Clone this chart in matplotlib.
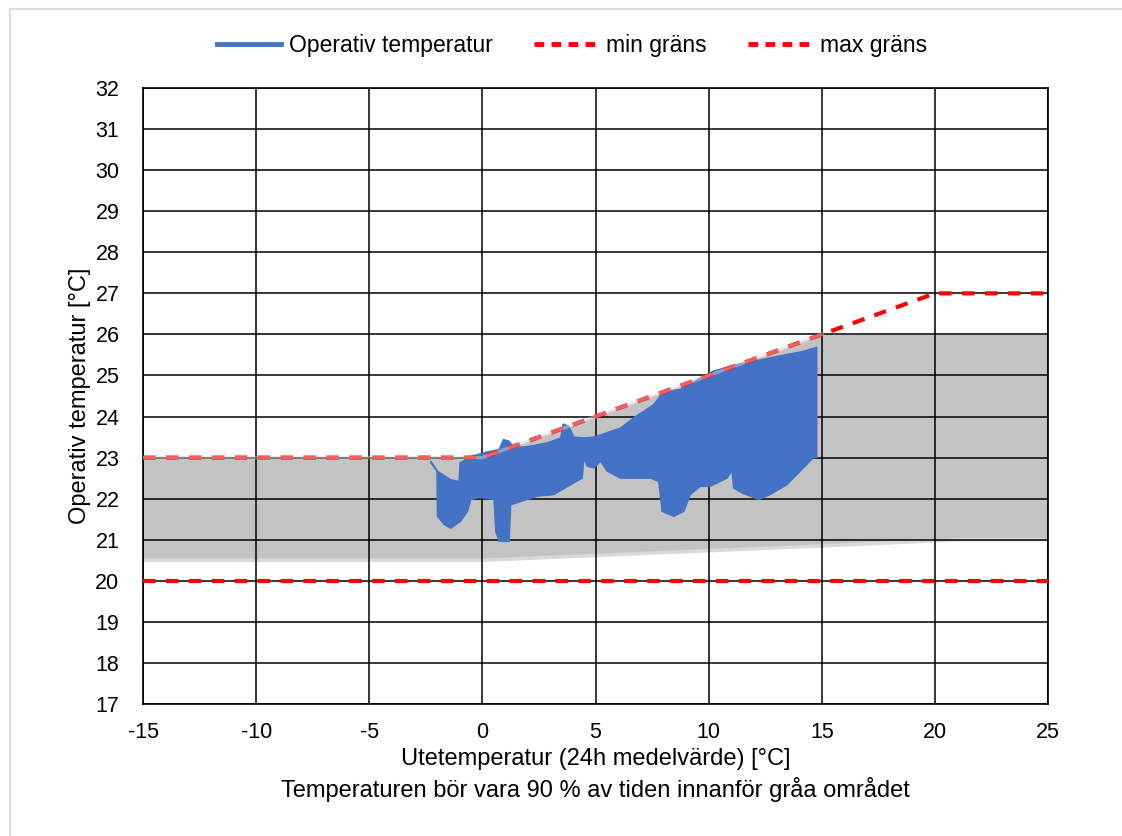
import numpy as np
import matplotlib.pyplot as plt
from matplotlib.lines import Line2D

plt.rcParams['font.family'] = ['Liberation Sans', 'DejaVu Sans']
plt.rcParams['axes.unicode_minus'] = False

# gränser
ute_gr = [-15, 0, 15, 20, 25]
min_grans = [20, 20, 20, 20, 20]
max_grans = [23, 23, 26, 27, 27]

# grått område (90 %)
ute_omr = [-15, 0, 15, 21, 25]
omr_low = [20.5, 20.5, 20.85, 21.0, 21.0]
omr_high = [23.0, 23.0, 26.0, 26.0, 26.0]

# operativ temperatur, övre och undre hölje
ute_upp = [-2.28, -1.99, -1.40, -1.03, -0.99, -0.51, 0.22, 0.74, 0.93, 1.18, 1.40, 2.13, 2.87,
           3.46, 3.57, 3.82, 4.04, 4.49, 4.93, 6.10, 6.69, 7.57, 8.01, 8.75, 9.63, 10.22,
           11.25, 12.72, 14.19, 14.78]
op_upp = [22.91, 22.67, 22.46, 22.42, 22.87, 23.03, 23.14, 23.20, 23.44, 23.40, 23.24, 23.28, 23.36,
          23.48, 23.82, 23.76, 23.50, 23.48, 23.50, 23.72, 23.97, 24.29, 24.62, 24.66, 24.94, 25.11,
          25.27, 25.43, 25.59, 25.69]
ute_ned = [-2.28, -2.01, -1.99, -1.69, -1.40, -0.96, -0.66, -0.51, -0.15, 0.51, 0.59, 0.74, 1.18,
           1.25, 1.69, 2.43, 3.16, 3.90, 4.41, 4.49, 4.63, 4.93, 5.22, 5.51, 6.10, 6.84, 7.43,
           7.79, 7.94, 8.46, 8.90, 9.19, 9.63, 10.07, 10.81, 11.03, 11.10, 11.47, 12.21, 12.72,
           13.46, 14.19, 14.63, 14.78]
op_ned = [22.87, 22.67, 21.57, 21.37, 21.28, 21.45, 21.69, 21.98, 22.03, 21.98, 21.20, 20.96, 20.96,
          21.85, 21.93, 22.06, 22.10, 22.34, 22.50, 22.99, 22.79, 22.75, 22.91, 22.67, 22.50, 22.50, 22.50,
          22.42, 21.69, 21.57, 21.69, 22.10, 22.30, 22.30, 22.50, 22.67, 22.26, 22.14, 21.98, 22.10,
          22.34, 22.75, 23.0, 23.0]

fig = plt.figure(figsize=(11.22, 8.36), dpi=100)
ax = fig.add_axes([0.1275, 0.1579, 0.8066, 0.7368])

ax.fill_between(ute_omr, omr_low, omr_high, color='#c3c3c3', lw=0, zorder=1)
ax.plot(ute_omr, omr_low, color='#d9d9d9', lw=2.5, zorder=1.5)

# blått fält som polygon av övre + undre hölje
xs = np.concatenate([ute_upp, ute_ned[::-1]])
ys = np.concatenate([op_upp, op_ned[::-1]])
ax.fill(xs, ys, color='#4472C4', lw=1, ec='#4472C4', zorder=3)

ax.plot(ute_gr, min_grans, color='#ff0000', lw=3, ls=(0, (3, 2.5)), zorder=4)
ax.plot(ute_gr, max_grans, color='#ff0000', lw=3, ls=(0, (3, 2.5)), zorder=4)
ax.plot(ute_omr[:3], omr_high[:3], color='#d9d9d9', lw=2.5, alpha=0.45, zorder=5)

ax.set_xlim(-15, 25)
ax.set_ylim(17, 32)
ax.set_xticks(np.arange(-15, 26, 5))
ax.set_yticks(np.arange(17, 33, 1))
ax.grid(True, color='black', lw=1.1, zorder=2)
ax.set_axisbelow(False)
for s in ax.spines.values():
    s.set_color('black')
    s.set_linewidth(1.2)
ax.tick_params(length=0, labelsize=15.5)
ax.tick_params(axis='x', pad=13)
ax.tick_params(axis='y', pad=17)

ax.set_ylabel('Operativ temperatur [°C]', fontsize=17)
ax.yaxis.set_label_coords(-0.058, 0.5)
ax.set_xlabel('Utetemperatur (24h medelvärde) [°C]', fontsize=17)
ax.xaxis.set_label_coords(0.5, -0.072)
ax.text(0.5, -0.139, 'Temperaturen bör vara 90 % av tiden innanför gråa området',
        fontsize=17, ha='center', va='center', transform=ax.transAxes)

handles = [Line2D([], [], color='#4472C4', lw=3.5),
           Line2D([], [], color='#ff0000', lw=3.5, ls=(0, (2, 1.5))),
           Line2D([], [], color='#ff0000', lw=3.5, ls=(0, (2, 1.5)))]
fig.legend(handles, ['Operativ temperatur', 'min gräns', 'max gräns'], loc='center',
           bbox_to_anchor=(0.51, 0.946), ncol=3, frameon=False, fontsize=16.5,
           handlelength=2.8, handletextpad=0.35, columnspacing=1.8)

# ram
fig.add_artist(Line2D([0.009, 1], [0.989, 0.989], color='#dcdcdc', lw=1.5))
fig.add_artist(Line2D([0.009, 0.009], [0, 0.989], color='#dcdcdc', lw=1.5))

fig.savefig('out.png', dpi=100)
